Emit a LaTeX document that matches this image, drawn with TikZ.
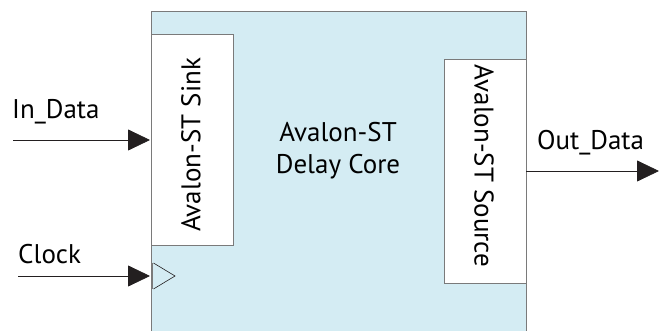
\documentclass[tikz,border=0pt]{standalone}
\usepackage{fontspec}
\setmainfont{PT Sans}
\usetikzlibrary{arrows.meta}
\definecolor{corefill}{HTML}{D4ECF3}
\definecolor{edge}{HTML}{7A7A7A}
\definecolor{arrowc}{HTML}{231F20}
\tikzset{
  lbl/.style={font=\fontsize{27}{32}\selectfont, inner sep=0pt},
  port/.style={draw=edge, line width=0.9pt, fill=white},
  sig/.style={draw=arrowc, line width=0.8pt, -{Triangle[length=22pt,width=21pt]}},
}
\begin{document}
\begin{tikzpicture}[x=1pt,y=-1pt]
\useasboundingbox (0,0) rectangle (659,331);
% core
\fill[corefill] (151,11) rectangle (526,331);
\draw[edge, line width=0.9pt] (151,331) -- (151,11) -- (526,11) -- (526,331);
\node[lbl, align=center] (core) at (338,151) {Avalon-ST\\Delay Core};
% sink
\draw[port] (151,34) rectangle (233,245);
\node[lbl, rotate=90] (sink) at (191,145) {Avalon-ST Sink};
% source
\draw[port] (444,59) rectangle (526,283);
\node[lbl, rotate=-90] (src) at (484,166) {Avalon-ST Source};
% coordinates
\coordinate (inS) at (13,140);
\coordinate (inE) at (150,140);
\coordinate (clkS) at (18,276);
\coordinate (clkE) at (150,276);
\coordinate (outS) at (526,171);
\coordinate (outE) at (659,171);
\draw[sig] (inS) -- (inE);
\draw[sig] (clkS) -- (clkE);
\draw[sig] (outS) -- (outE);
\node[lbl, anchor=base west] (inl) at (12,119) {In\_Data};
\node[lbl, anchor=base west] (clkl) at (18,264) {Clock};
\node[lbl, anchor=base west] (outl) at (537,150) {Out\_Data};
% clock triangle
\draw[edge, line width=2pt] (152,263) -- (152,289);
\draw[arrowc, line width=0.6pt] (153.5,263) -- (175,276) -- (153.5,289);
\end{tikzpicture}
\end{document}
